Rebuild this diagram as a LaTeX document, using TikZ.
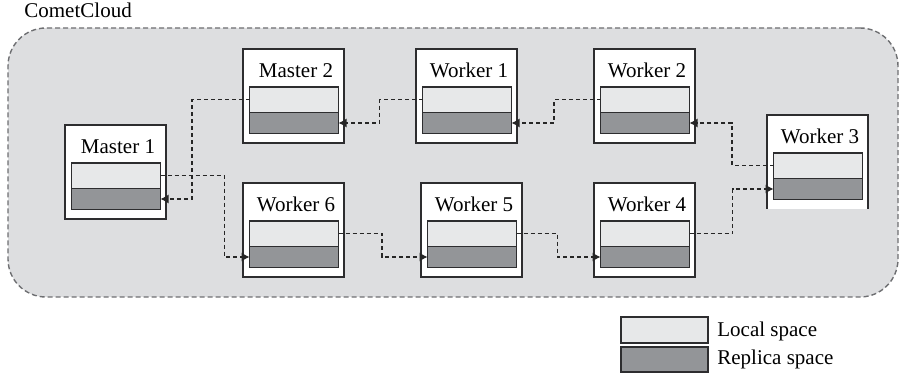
\documentclass[tikz,border=0pt]{standalone}
\usepackage{fontspec}
\setmainfont{Liberation Serif}
\usetikzlibrary{arrows.meta}
\definecolor{cloudfill}{RGB}{221,222,224}
\definecolor{cloudline}{RGB}{110,111,114}
\definecolor{lightbar}{RGB}{231,232,233}
\definecolor{darkbar}{RGB}{147,149,152}
\definecolor{edge}{RGB}{45,45,47}
\tikzset{
  unitbox/.style={draw=edge, line width=0.65pt, fill=white, minimum width=50.5pt, minimum height=47pt, inner sep=0pt, outer sep=0pt},
  lbar/.style={draw=edge, line width=0.65pt, fill=lightbar, minimum width=44.5pt, minimum height=12.75pt, inner sep=0pt, outer sep=0pt},
  dbar/.style={draw=edge, line width=0.65pt, fill=darkbar, minimum width=44.5pt, minimum height=10.5pt, inner sep=0pt, outer sep=0pt},
  lbl/.style={anchor=base, inner sep=0pt, font=\fontsize{10.5}{12}\selectfont},
  conn/.style={draw=black!85, line width=0.6pt, dash pattern=on 2pt off 1.5pt, -{Latex[length=4pt,width=4.5pt]}},
}
\newcommand\spacebox[5][unitbox]{%
  \node[#1] (#2) at ({#3+50.5},{#4+47}) {};
  \node[lbar] (#2l) at ({#3+51},{#4+50.75}) {};
  \node[dbar] (#2d) at ({#3+51},{#4+74}) {};
  \node[lbl] (#2t) at ({#3+53},{#4+29}) {#5};
}
\begin{document}
\begin{tikzpicture}[x=0.5pt,y=-0.5pt]
\useasboundingbox (0,0) rectangle (900,373);
% cloud
\node[draw=cloudline, fill=cloudfill, line width=0.7pt, dash pattern=on 2.5pt off 1.5pt,
      rounded corners=19pt, minimum width=445pt, minimum height=134.5pt, inner sep=0pt]
      (cloud) at (453,162.5) {};
\node[lbl, anchor=base west] (cloudt) at (24,18) {CometCloud};
% units
\spacebox{m1}{65}{125}{Master 1}
\spacebox{m2}{243}{49}{Master 2}
\spacebox{w1}{416}{49}{Worker 1}
\spacebox{w2}{594}{49}{Worker 2}
\spacebox[unitbox,draw=none]{w3}{767}{115}{Worker 3}
\draw[edge, line width=0.65pt] (w3.south west) -- (w3.north west) -- (w3.north east) -- (w3.south east);
\spacebox{w6}{243}{183}{Worker 6}
\spacebox{w5}{421}{183}{Worker 5}
\spacebox{w4}{594}{183}{Worker 4}
% connectors
\draw[conn] (m1l.east) -- ++(64,0) |- (w6d.west);
\draw[conn] (m2l.west) -- ++(-57.5,0) |- (m1d.east);
\draw[conn] (w1l.west) -- ++(-43,0) |- (m2d.east);
\draw[conn] (w2l.west) -- ++(-46.5,0) |- (w1d.east);
\draw[conn] (w3l.west) -- ++(-41.5,0) |- (w2d.east);
\draw[conn] (w4l.east) -- ++(43,0) |- (w3d.west);
\draw[conn] (w5l.east) -- ++(41,0) |- (w4d.west);
\draw[conn] (w6l.east) -- ++(43.5,0) |- (w5d.west);
% legend
\node[lbar, minimum width=43.5pt, minimum height=13pt] (legl) at (664.5,330) {};
\node[dbar, minimum width=43.5pt, minimum height=12.5pt] (legd) at (664.5,359.5) {};
\node[lbl, anchor=base west] (leglt) at (717,337) {Local space};
\node[lbl, anchor=base west] (legdt) at (717,365) {Replica space};
\end{tikzpicture}
\end{document}
